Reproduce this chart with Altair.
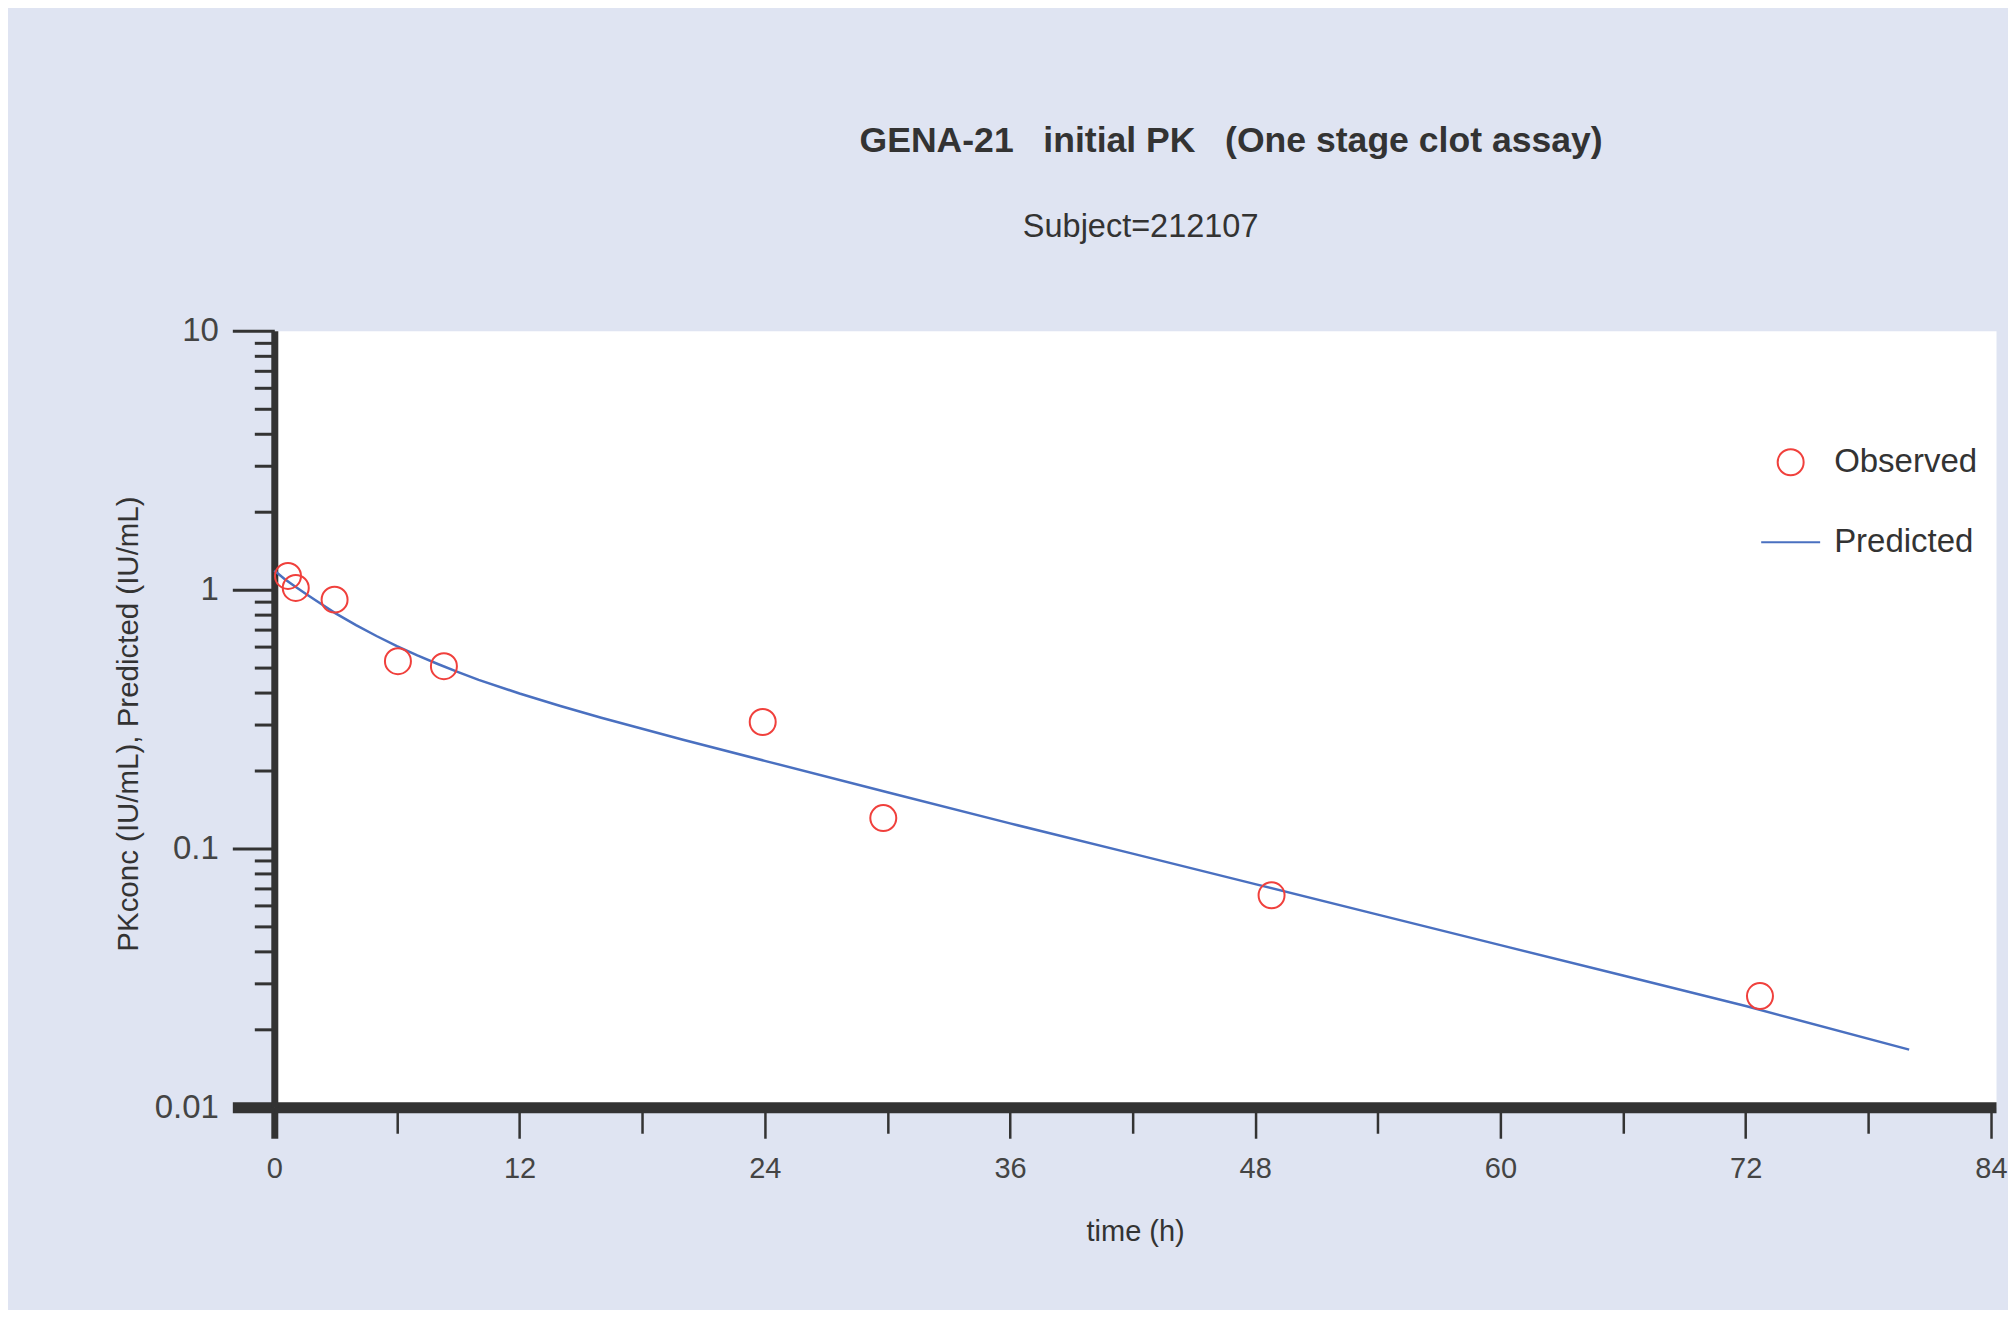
import altair as alt
import pandas as pd

# ---- data ----
subject_label = ["Subject=212107"]
series_names = ["Observed", "Predicted"]

obs_time = [0.67, 1.05, 2.95, 6.05, 8.3, 23.9, 29.8, 48.8, 72.7]
obs_conc = [1.13, 1.015, 0.915, 0.529, 0.506, 0.308, 0.131, 0.0659, 0.0269]

pred_time = [0, 0.5, 1, 1.5, 2, 3, 4, 5, 6, 7, 8, 9, 10, 12, 14, 16, 18, 20,
             24, 30, 36, 42, 48, 54, 60, 66, 72, 80]
pred_conc = [1.185, 1.10, 1.03, 0.968, 0.912, 0.81, 0.729, 0.662, 0.605, 0.557, 0.516, 0.48,
             0.448, 0.397, 0.355, 0.32, 0.29, 0.263, 0.218, 0.165, 0.125, 0.0955,
             0.0728, 0.0555, 0.0423, 0.0323, 0.0246, 0.0167]

x_major = [0, 12, 24, 36, 48, 60, 72, 84]
x_minor = [6, 18, 30, 42, 54, 66, 78]
y_major = [0.01, 0.1, 1, 10]
y_minor = [0.02, 0.03, 0.04, 0.05, 0.06, 0.07, 0.08, 0.09,
           0.2, 0.3, 0.4, 0.5, 0.6, 0.7, 0.8, 0.9,
           2, 3, 4, 5, 6, 7, 8, 9]

title_text = "GENA-21\u00a0\u00a0\u00a0initial PK\u00a0\u00a0\u00a0(One stage clot assay)"
x_title = "time (h)"
y_title = "PKconc (IU/mL), Predicted (IU/mL)"

FONT = "Liberation Sans"
DARK = "#333333"
LABEL = "#444444"
RED = "#f0403c"
BLUE = "#4a70c0"
BG = "#dfe4f2"

df = pd.concat([
    pd.DataFrame({"time": obs_time, "conc": obs_conc, "series": series_names[0]}),
    pd.DataFrame({"time": pred_time, "conc": pred_conc, "series": series_names[1]}),
], ignore_index=True)

x_major_test = " || ".join(f"datum.value == {v}" for v in x_major)
y_major_test = " || ".join(f"datum.value == {v}" for v in y_major)

x_scale = alt.Scale(domain=[0, 84.25], nice=False, zero=False)
y_scale = alt.Scale(type="log", domain=[0.01, 10], nice=False)
color_scale = alt.Scale(domain=series_names, range=[RED, BLUE])

legend = alt.Legend(
    title=None, orient="none", legendX=1487, legendY=115,
    labelFontSize=33, labelFont=FONT, labelColor=DARK,
    symbolStrokeWidth=2, labelOffset=13, rowPadding=32, padding=0,
)

x_axis_bottom = alt.Axis(
    values=x_major + x_minor, title=x_title, orient="bottom", offset=0,
    domainWidth=11, domainColor=DARK,
    tickColor=DARK,
    tickSize={"condition": {"test": x_major_test, "value": 31}, "value": 26},
    tickWidth={"condition": {"test": "datum.value == 0", "value": 7}, "value": 2.5},
    labelExpr=f"({x_major_test}) ? datum.label : ''",
    labelFlush=False, labelOverlap=False,
    labelFontSize=29, labelFont=FONT, labelColor=LABEL, labelPadding=16.5,
    titleFontSize=29, titleFont=FONT, titleColor=DARK, titleFontWeight="normal", titlePadding=33.5,
    grid=False,
)
# top axis carries only the by-group caption
x_axis_top = alt.Axis(
    orient="top", title=subject_label[0], offset=0,
    domain=False, ticks=False, labels=False, grid=False,
    titleFontSize=32.5, titleFont=FONT, titleColor=DARK, titleFontWeight="normal",
    titlePadding=87.5, titleX=866.5,
)
y_axis = alt.Axis(
    values=y_major + y_minor, title=y_title, orient="left", format="~g", offset=0,
    domainWidth=7, domainColor=DARK,
    tickColor=DARK,
    tickSize={"condition": {"test": y_major_test, "value": 42}, "value": 20},
    tickWidth={"condition": {"test": "datum.value == 0.01", "value": 11}, "value": 3},
    labelExpr=f"({y_major_test}) ? datum.label : ''",
    labelFlush=False, labelOverlap=False,
    labelFontSize=33, labelFont=FONT, labelColor=LABEL, labelPadding=14,
    titleFontSize=29.5, titleFont=FONT, titleColor=DARK, titleFontWeight="normal",
    titlePadding=10.5, titleY=393,
    grid=False,
)

points = alt.Chart().mark_point(filled=False, strokeWidth=2, opacity=1).encode(
    x=alt.X("time:Q", scale=x_scale, axis=x_axis_bottom),
    y=alt.Y("conc:Q", scale=y_scale, axis=y_axis),
    color=alt.Color("series:N", scale=color_scale, legend=legend),
    shape=alt.Shape("series:N", scale=alt.Scale(domain=series_names, range=["circle", "stroke"]), legend=legend),
    size=alt.Size("series:N", scale=alt.Scale(domain=series_names, range=[676, 3481]), legend=legend),
).transform_filter(alt.datum.series == series_names[0])

line = alt.Chart().mark_line(strokeWidth=2.5).encode(
    x=alt.X("time:Q", scale=x_scale, axis=x_axis_top),
    y=alt.Y("conc:Q", scale=y_scale, axis=y_axis),
    color=alt.Color("series:N", scale=color_scale, legend=legend),
).transform_filter(alt.datum.series == series_names[1])

chart = alt.layer(line, points, data=df).resolve_axis(x="independent").properties(
    width=1723, height=777,
    title=alt.TitleParams(
        title_text, fontSize=35.6, fontWeight="bold", font=FONT, color=DARK,
        anchor="middle", dx=96, offset=51,
    ),
).configure(
    background=BG,
    padding={"left": 105.5, "top": 114.6, "right": 0, "bottom": 63},
).configure_view(fill="white", stroke="transparent")

chart.save("out.html", embed_options={"renderer": "svg", "actions": False})
